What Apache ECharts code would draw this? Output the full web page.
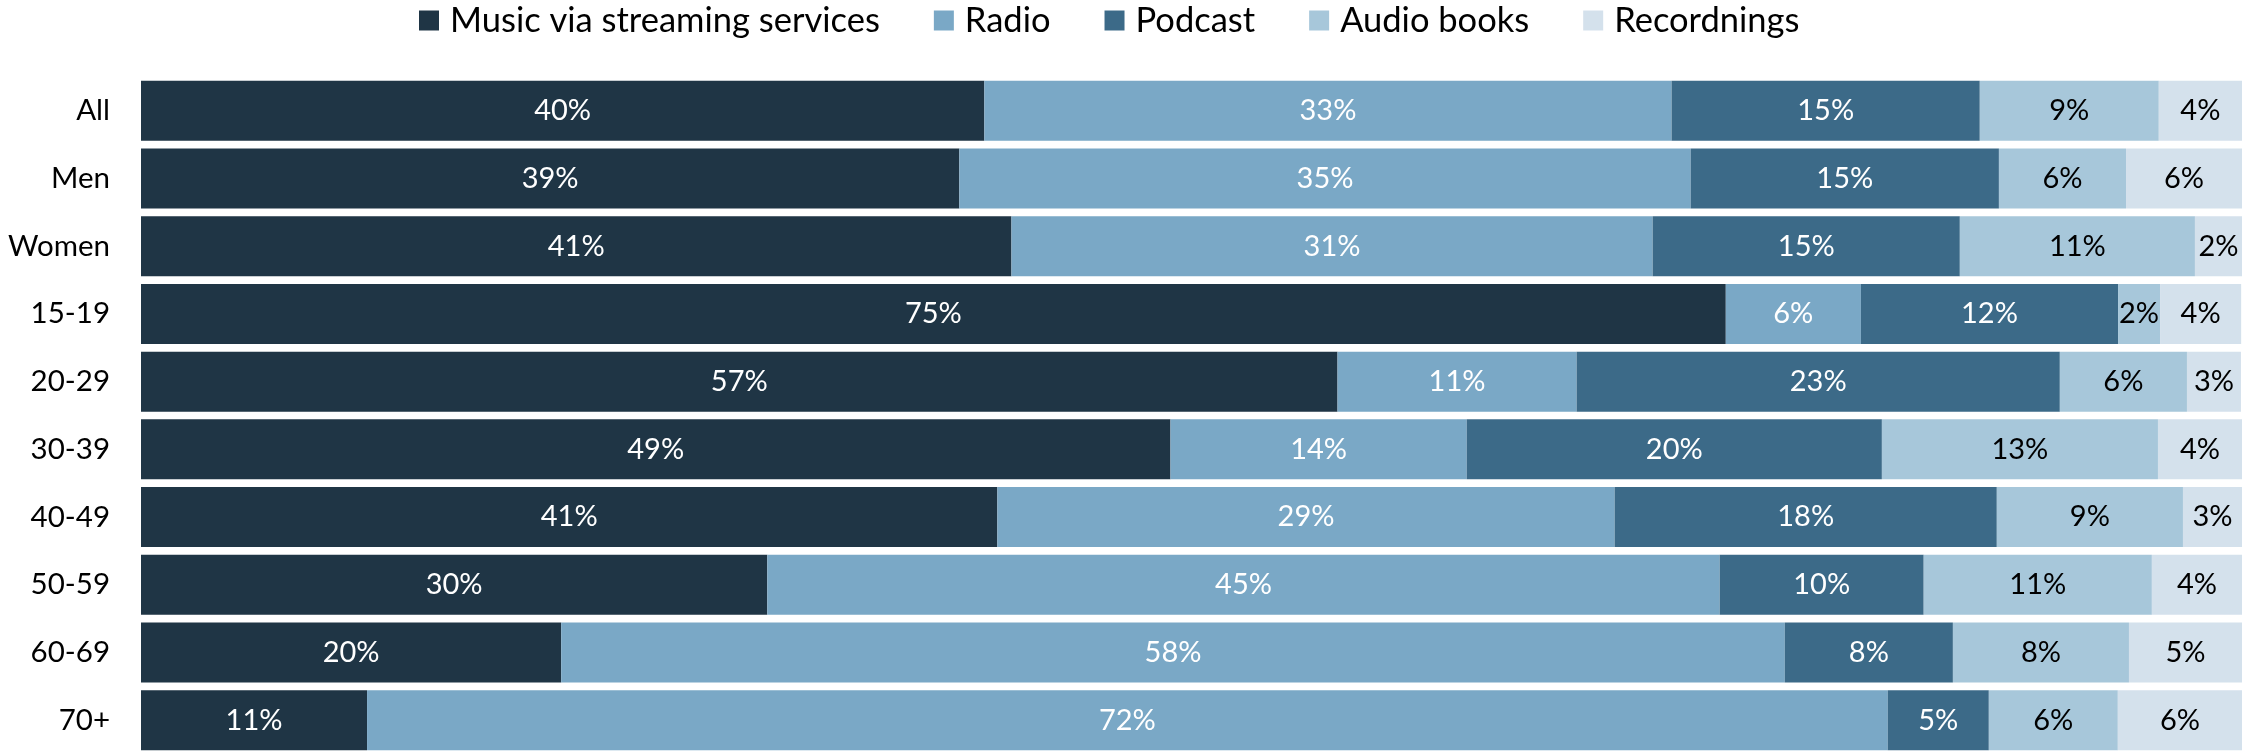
<!DOCTYPE html>
<html>
<head>
<meta charset="utf-8">
<title>Audio listening by group</title>
<script src="https://cdn.jsdelivr.net/npm/echarts@6/dist/echarts.min.js"></script>
<style>
  html, body { margin: 0; padding: 0; background: #ffffff; }
  #chart { width: 2242px; height: 754px; }
</style>
</head>
<body>
<div id="chart"></div>
<script>
// Groups shown on the vertical axis, top to bottom
const groups = ['All', 'Men', 'Women', '15-19', '20-29', '30-39', '40-49', '50-59', '60-69', '70+'];

// Share of listening time (%) per group
const music      = [40.14, 38.95, 41.43, 75.43, 56.95, 49.00, 40.76, 29.81, 20.00, 10.76];
const radio      = [32.71, 34.81, 30.52,  6.43, 11.38, 14.10, 29.38, 45.33, 58.24, 72.38];
const podcast    = [14.67, 14.67, 14.62, 12.24, 23.00, 19.76, 18.19,  9.71,  8.00,  4.81];
const audioBooks = [ 8.52,  6.05, 11.19,  2.00,  6.05, 13.14,  8.86, 10.86,  8.38,  6.14];
const recordings = [ 4.00,  5.57,  2.29,  3.86,  2.57,  4.05,  2.86,  4.33,  5.43,  5.95];

const seriesNames = ['Music via streaming services', 'Radio', 'Podcast', 'Audio books', 'Recordnings'];
const seriesData = [music, radio, podcast, audioBooks, recordings];
const colors = ['#1F3545', '#7AA8C6', '#3C6A88', '#A7C7DA', '#D4E1EC'];
const labelColors = ['#ffffff', '#ffffff', '#ffffff', '#000000', '#000000'];

const FONT = 'Lato, "Open Sans", sans-serif';

const chart = echarts.init(document.getElementById('chart'), null, { renderer: 'canvas' });

chart.setOption({
  animation: false,
  backgroundColor: '#ffffff',
  color: colors,
  textStyle: { fontFamily: FONT },
  legend: {
    top: -2,
    left: 414,
    itemWidth: 20,
    itemHeight: 20,
    itemGap: 54,
    icon: 'rect',
    textStyle: { fontFamily: FONT, fontSize: 34.5, color: '#000000', padding: [0, 0, 0, 6] },
    data: seriesNames
  },
  grid: { left: 141, right: 0, top: 77, height: 682, containLabel: false },
  xAxis: {
    type: 'value',
    min: 0,
    max: 100,
    show: false
  },
  yAxis: {
    type: 'category',
    data: groups,
    inverse: true,
    axisLine: { show: false },
    axisTick: { show: false },
    splitLine: { show: false },
    axisLabel: { fontFamily: FONT, fontSize: 29.5, color: '#000000', margin: 31 }
  },
  series: seriesNames.map((name, i) => ({
    name: name,
    type: 'bar',
    stack: 'share',
    barWidth: 60,
    data: seriesData[i],
    itemStyle: { color: colors[i] },
    label: {
      show: true,
      position: 'inside',
      fontFamily: FONT,
      fontSize: 29,
      color: labelColors[i],
      formatter: p => Math.round(p.value) + '%'
    }
  }))
});
</script>
</body>
</html>
